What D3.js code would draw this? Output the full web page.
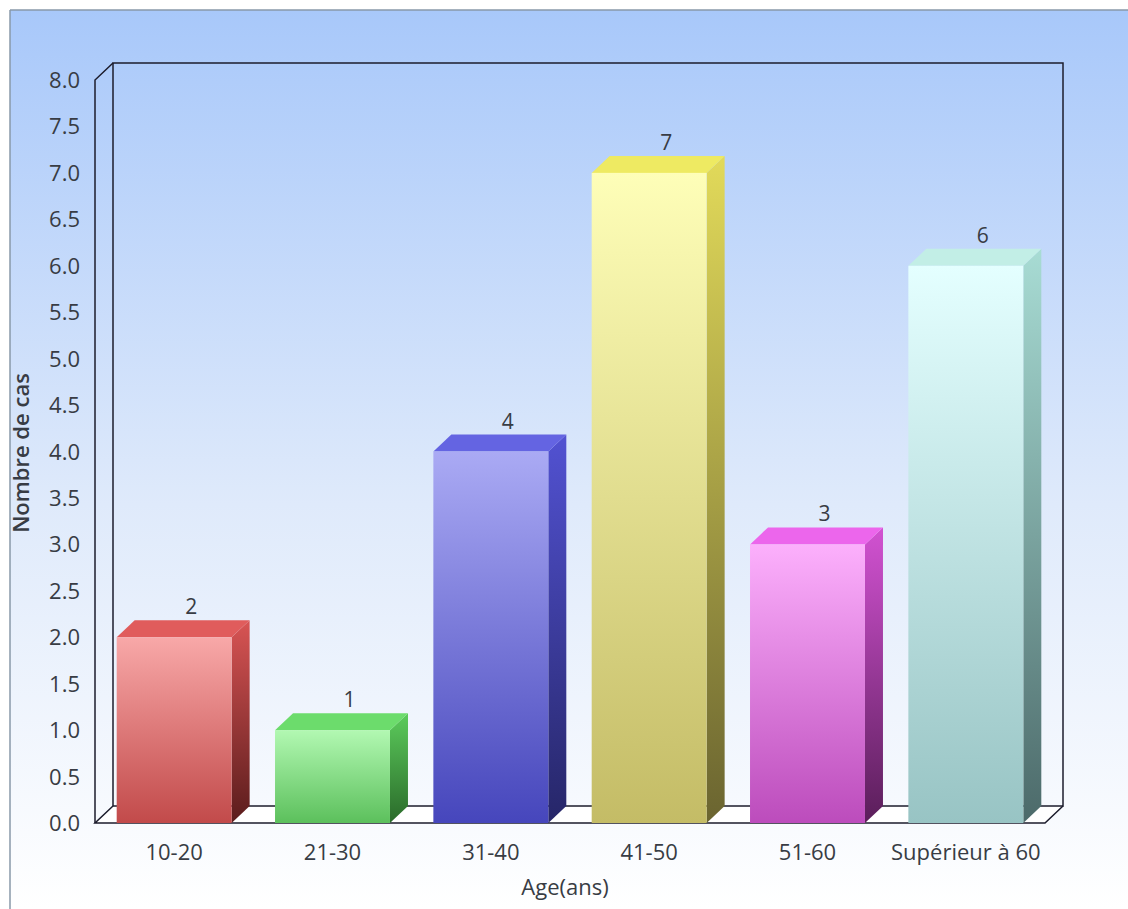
<!DOCTYPE html>
<html>
<head>
<meta charset="utf-8">
<script src="https://cdn.jsdelivr.net/npm/d3@7"></script>
<style>
  html, body { margin: 0; padding: 0; background: #fff; }
  svg { display: block; font-family: "Open Sans", "DejaVu Sans", sans-serif; }
</style>
</head>
<body>
<svg id="chart" width="1128" height="909"></svg>
<script>
const categories = ['10-20', '21-30', '31-40', '41-50', '51-60', 'Supérieur à 60'];
const counts = [2, 1, 4, 7, 3, 6];
const yTicks = [0, 0.5, 1, 1.5, 2, 2.5, 3, 3.5, 4, 4.5, 5, 5.5, 6, 6.5, 7, 7.5, 8];

// front top, front bottom, top face, side top, side bottom
const barColors = [
  ['#f8a8a8', '#c24a4a', '#e05c5c', '#d85454', '#5a1c1c'],
  ['#b2f8b2', '#5cc05c', '#6cdc6c', '#5ccc5c', '#2a6a2a'],
  ['#aaaaf4', '#4646bc', '#6464e2', '#5252d2', '#262668'],
  ['#fefeb8', '#c4bc66', '#eeea62', '#e2da5a', '#6a6430'],
  ['#fcb0fc', '#bc4cbc', '#ec66ec', '#d252d2', '#5a1e5a'],
  ['#e4ffff', '#98c4c4', '#c2eee6', '#a8dcd4', '#4c6a6a']
];

const W = 1128, H = 909;
const plot = { left: 95, right: 1045, top: 80, bottom: 823 };
const depth = { dx: 18, dy: -17 };
const ink = '#1c1c2c';
const textColor = '#383c44';

const svg = d3.select('#chart');
const defs = svg.append('defs');

const bg = defs.append('linearGradient').attr('id', 'bg').attr('x1', 0).attr('y1', 0).attr('x2', 0).attr('y2', 1);
bg.append('stop').attr('offset', '0%').attr('stop-color', '#a8c8fa');
bg.append('stop').attr('offset', '55%').attr('stop-color', '#dfeafb');
bg.append('stop').attr('offset', '100%').attr('stop-color', '#ffffff');

svg.append('rect').attr('x', 10).attr('y', 10).attr('width', W - 10).attr('height', H - 10).attr('fill', 'url(#bg)');
svg.append('line').attr('x1', 10).attr('y1', 10).attr('x2', W).attr('y2', 10).attr('stroke', '#8898a8').attr('stroke-width', 1.5);
svg.append('line').attr('x1', 10).attr('y1', 10).attr('x2', 10).attr('y2', H).attr('stroke', '#8898a8').attr('stroke-width', 1.5);

const x = d3.scaleBand().domain(categories).range([plot.left, plot.right]).paddingInner(0.274).paddingOuter(0.137);
const y = d3.scaleLinear().domain([0, 8]).range([plot.bottom, plot.top]);

const bx = plot.left + depth.dx, by = plot.bottom + depth.dy, tY = plot.top + depth.dy;
const line = d3.line();

// floor + walls
svg.append('path')
  .attr('d', line([[plot.left, plot.bottom], [bx, by], [plot.right + depth.dx, by], [plot.right, plot.bottom]]) + 'Z')
  .attr('fill', '#ffffff');
svg.append('rect')
  .attr('x', bx).attr('y', tY)
  .attr('width', plot.right - plot.left).attr('height', by - tY)
  .attr('fill', 'none').attr('stroke', ink).attr('stroke-width', 1.5);
svg.append('path')
  .attr('d', line([[plot.left, plot.bottom], [plot.left, plot.top], [bx, tY]]))
  .attr('fill', 'none').attr('stroke', ink).attr('stroke-width', 1.5);
svg.append('path')
  .attr('d', line([[bx, by], [plot.left, plot.bottom], [plot.right, plot.bottom], [plot.right + depth.dx, by]]))
  .attr('fill', 'none').attr('stroke', ink).attr('stroke-width', 1.5);

// gradients per bar
barColors.forEach((c, i) => {
  const f = defs.append('linearGradient').attr('id', `front${i}`).attr('x1', 0).attr('y1', 0).attr('x2', 0).attr('y2', 1);
  f.append('stop').attr('offset', '0%').attr('stop-color', c[0]);
  f.append('stop').attr('offset', '100%').attr('stop-color', c[1]);
  const s = defs.append('linearGradient').attr('id', `side${i}`).attr('x1', 0).attr('y1', 0).attr('x2', 0).attr('y2', 1);
  s.append('stop').attr('offset', '0%').attr('stop-color', c[3]);
  s.append('stop').attr('offset', '100%').attr('stop-color', c[4]);
});

const data = categories.map((cat, i) => ({ cat, value: counts[i], i }));
const bars = svg.selectAll('g.bar').data(data).join('g').attr('class', 'bar');

bars.append('path')
  .attr('d', d => {
    const x1 = x(d.cat) + x.bandwidth(), yt = y(d.value);
    return line([[x1, yt], [x1 + depth.dx, yt + depth.dy], [x1 + depth.dx, by], [x1, plot.bottom]]) + 'Z';
  })
  .attr('fill', d => `url(#side${d.i})`);

bars.append('path')
  .attr('d', d => {
    const x0 = x(d.cat), x1 = x0 + x.bandwidth(), yt = y(d.value);
    return line([[x0, yt], [x0 + depth.dx, yt + depth.dy], [x1 + depth.dx, yt + depth.dy], [x1, yt]]) + 'Z';
  })
  .attr('fill', d => barColors[d.i][2]);

bars.append('rect')
  .attr('x', d => x(d.cat))
  .attr('y', d => y(d.value))
  .attr('width', x.bandwidth())
  .attr('height', d => plot.bottom - y(d.value))
  .attr('fill', d => `url(#front${d.i})`);

bars.append('text')
  .attr('x', d => x(d.cat) + x.bandwidth() / 2 + 17)
  .attr('y', d => y(d.value) - 23)
  .attr('text-anchor', 'middle')
  .attr('font-size', 21)
  .attr('fill', textColor)
  .text(d => d.value);

// y ticks
svg.append('g').selectAll('text').data(yTicks).join('text')
  .attr('x', 80)
  .attr('y', d => y(d) + 8)
  .attr('text-anchor', 'end')
  .attr('font-size', 22)
  .attr('fill', textColor)
  .text(d3.format('.1f'));

// x labels
svg.append('g').selectAll('text').data(categories).join('text')
  .attr('x', d => x(d) + x.bandwidth() / 2)
  .attr('y', 860)
  .attr('text-anchor', 'middle')
  .attr('font-size', 22)
  .attr('fill', textColor)
  .text(d => d);

svg.append('text')
  .attr('x', 565)
  .attr('y', 895)
  .attr('text-anchor', 'middle')
  .attr('font-size', 22)
  .attr('fill', textColor)
  .text('Age(ans)');

svg.append('text')
  .attr('transform', `translate(29, 453) rotate(-90)`)
  .attr('text-anchor', 'middle')
  .attr('font-size', 22)
  .attr('font-weight', 600)
  .attr('fill', textColor)
  .text('Nombre de cas');
</script>
</body>
</html>
